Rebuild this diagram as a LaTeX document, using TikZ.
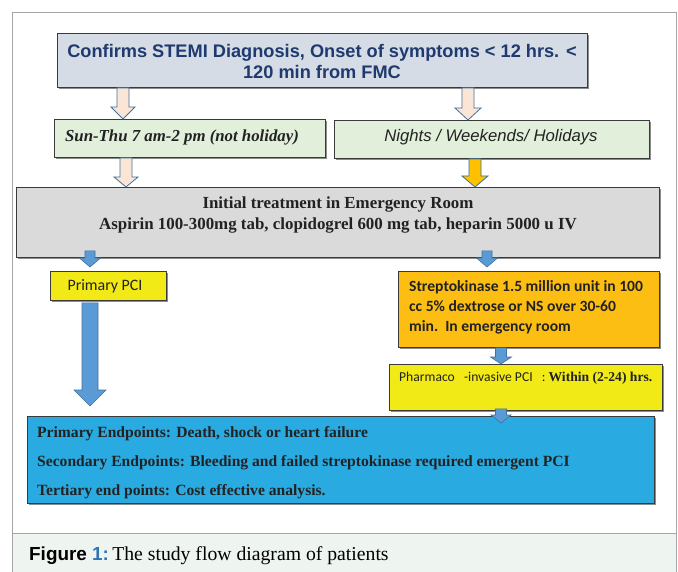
\documentclass[tikz,border=0pt]{standalone}
\usepackage{fontspec}
\setmainfont{Liberation Serif}
\newfontfamily\arialf{Liberation Sans}
\newfontfamily\calibf{Carlito}
\usetikzlibrary{calc,shadows}
\definecolor{topfill}{HTML}{D6DCE5}
\definecolor{navy}{HTML}{1F3A6E}
\definecolor{greenfill}{HTML}{E2EFDA}
\definecolor{grayfill}{HTML}{DADADA}
\definecolor{yellowfill}{HTML}{F2EA17}
\definecolor{orangefill}{HTML}{FDBE14}
\definecolor{bluefill}{HTML}{29ABE2}
\definecolor{arrblue}{HTML}{5B9BD5}
\definecolor{arrline}{HTML}{41719C}
\definecolor{pinkfill}{HTML}{FBE5D6}
\definecolor{arrorange}{HTML}{FFC000}
\definecolor{capbg}{HTML}{EEF5F0}
\definecolor{frameline}{HTML}{A6A6A6}
\definecolor{boxline}{HTML}{3A3A3A}
\definecolor{capblue}{HTML}{2E75B6}
\definecolor{txtdark}{HTML}{222222}
\tikzset{
  box/.style={draw=boxline, line width=0.9pt, inner sep=0pt, anchor=north west,
    drop shadow={shadow xshift=1.2pt, shadow yshift=-1.2pt, opacity=0.45, fill=black}},
  lbl/.style={inner sep=0pt},
  pinkarr/.style={fill=pinkfill, draw=arrline, line width=0.8pt},
  bluearr/.style={fill=arrblue, draw=arrline, line width=0.6pt},
  orangearr/.style={fill=arrorange, draw=arrline, line width=0.8pt}
}
% #1 style, #2 x, #3 from, #4 to, #5 shaft half width, #6 head half width, #7 head length
\newcommand\blockarrow[7]{%
  \draw[#1] let \p1=(#3), \p2=(#4) in
    ({#2pt-#5pt},\y1) -- ({#2pt+#5pt},\y1) -- ({#2pt+#5pt},\y2+#7pt)
    -- ({#2pt+#6pt},\y2+#7pt) -- (#2pt,\y2) -- ({#2pt-#6pt},\y2+#7pt)
    -- ({#2pt-#5pt},\y2+#7pt) -- cycle;}
\begin{document}
\begin{tikzpicture}[x=1pt,y=-1pt]
\useasboundingbox (0,0) rectangle (678,572);
\fill[white] (0,0) rectangle (678,572);
\fill[capbg] (12,533) rectangle (676,572);
\draw[frameline, line width=0.8pt] (12,572) -- (12,12) -- (676,12) -- (676,572);
\draw[frameline, line width=0.8pt] (12,533) -- (676,533);

% boxes
\node[box, fill=topfill, minimum width=530pt, minimum height=54pt] (top) at (57,33) {};
\node[lbl, font=\arialf\bfseries\fontsize{18.2}{21}\selectfont, text=navy, align=center] (toptxt) at (322,61) {Confirms STEMI Diagnosis, Onset of symptoms < 12 hrs. <\\120 min from FMC};

\node[box, fill=greenfill, minimum width=271pt, minimum height=38pt] (left) at (54,119) {};
\node[lbl, font=\bfseries\itshape\fontsize{16.8}{20}\selectfont, text=txtdark] (lefttxt) at (182,137) {Sun-Thu 7 am-2 pm (not holiday)};

\node[box, fill=greenfill, minimum width=315pt, minimum height=38pt] (right) at (334,120) {};
\node[lbl, font=\arialf\itshape\fontsize{16.7}{18}\selectfont, text=txtdark] (righttxt) at (491,137) {Nights / Weekends/ Holidays};

\node[box, fill=grayfill, minimum width=643pt, minimum height=70pt] (gray) at (16,187) {};
\node[lbl, font=\bfseries\fontsize{16.9}{21}\selectfont, text=txtdark, align=center] (graytxt) at (338,215) {Initial treatment in Emergency Room\\Aspirin 100-300mg tab, clopidogrel 600 mg tab, heparin 5000 u IV};

\node[box, fill=yellowfill, minimum width=116pt, minimum height=29pt] (ppci) at (50,271) {};
\node[lbl, font=\calibf\fontsize{15.9}{17}\selectfont, text=txtdark] (ppcitxt) at (105,286) {Primary PCI};

\node[box, fill=orangefill, minimum width=261pt, minimum height=76pt] (strep) at (398,271) {};
\node[lbl, font=\calibf\bfseries\fontsize{15.6}{20}\selectfont, text=txtdark, align=left, anchor=west] (streptxt) at (409,307) {Streptokinase 1.5 million unit in 100\\cc 5\% dextrose or NS over 30-60\\min.\ \ In emergency room};

\node[box, fill=yellowfill, minimum width=273pt, minimum height=46pt] (pharm) at (389,364) {};
\node[lbl, font=\calibf\fontsize{13.6}{14}\selectfont, text=txtdark, anchor=west] (pharmtxt) at (399,378) {Pharmaco\ \ \ -invasive PCI\ \ \ : {\rmfamily\bfseries Within (2-24) hrs.}};

\node[box, fill=bluefill, minimum width=627pt, minimum height=87pt] (endp) at (27,416) {};
\node[lbl, font=\bfseries\fontsize{15.6}{29}\selectfont, text=txtdark, align=left, anchor=north west] (endptxt) at (37,426) {Primary Endpoints: Death, shock or heart failure\\Secondary Endpoints: Bleeding and failed streptokinase required emergent PCI\\Tertiary end points: Cost effective analysis.};

\node[lbl, anchor=west] (caption) at (29,556) {{\arialf\bfseries\fontsize{18.9}{20}\selectfont Figure {\color{capblue}1:}} {\fontsize{19.7}{20}\selectfont The study flow diagram of patients}};

% arrows
\coordinate (bigtip) at (90,406);
\coordinate (endtip) at (501,423);
\coordinate (lppcitip) at (90,267);
\coordinate (streptip) at (487,267);
\blockarrow{pinkarr}{123}{top.south}{left.north}{6}{12}{12}
\blockarrow{pinkarr}{468}{top.south}{right.north}{6}{13}{12}
\blockarrow{pinkarr}{126}{left.south}{gray.north}{6}{12}{10}
\blockarrow{orangearr}{475}{right.south}{gray.north}{6}{13}{11}
\blockarrow{bluearr}{90}{$(gray.south)+(0,-7)$}{lppcitip}{5}{10.5}{9}
\blockarrow{bluearr}{487}{$(gray.south)+(0,-7)$}{streptip}{5}{10.5}{9}
\blockarrow{bluearr}{90}{$(ppci.south)+(0,2)$}{bigtip}{8}{16}{16}
\blockarrow{bluearr}{501}{strep.south}{pharm.north}{5.5}{10.5}{7}
\blockarrow{bluearr}{501}{$(pharm.south)+(0,-2)$}{endtip}{5.5}{10}{8}
\end{tikzpicture}
\end{document}
